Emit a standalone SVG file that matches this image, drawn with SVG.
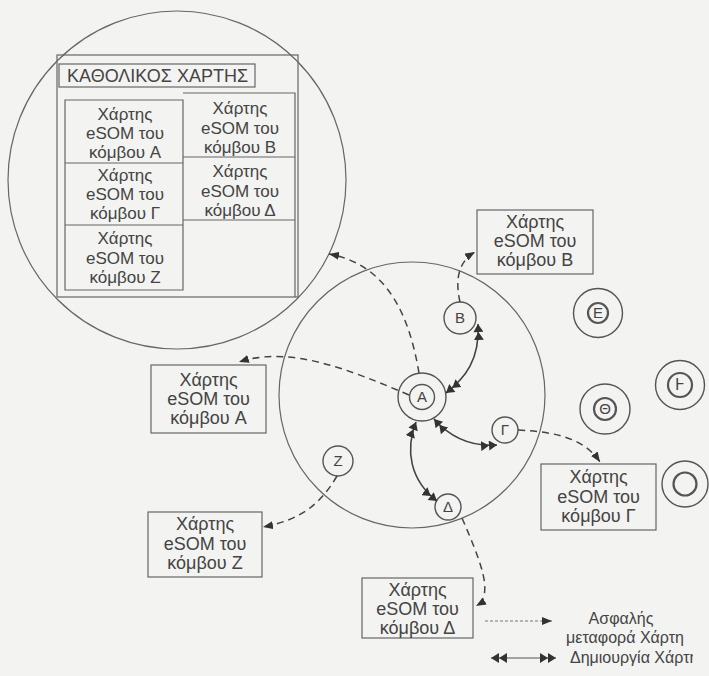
<svg xmlns="http://www.w3.org/2000/svg" width="709" height="676" viewBox="0 0 709 676">
<style>
text{font-family:"Liberation Sans",Arial,sans-serif;fill:#444}
.t{font-size:18px;text-anchor:middle}
.c{font-size:17px;text-anchor:middle}
.n{font-size:15px;text-anchor:middle}
.lg{font-size:16px}
.box{fill:#f3f3f1;stroke:#666;stroke-width:1.2}
.grid{fill:none;stroke:#666;stroke-width:1.2}
.big{fill:none;stroke:#666;stroke-width:1.2}
.nd{fill:#f3f3f1;stroke:#555;stroke-width:1.4}
.nd2{fill:none;stroke:#555;stroke-width:2.2}
.ds{fill:none;stroke:#444;stroke-width:1.5;stroke-dasharray:7 5;marker-end:url(#ah)}
.so{fill:none;stroke:#444;stroke-width:1.6;marker-start:url(#dah);marker-end:url(#dah)}
</style>
<defs>
<marker id="ah" viewBox="0 0 10 8" refX="10" refY="4" markerWidth="10" markerHeight="8" markerUnits="userSpaceOnUse" orient="auto"><path d="M0,0 L10,4 L0,8 z" fill="#333"/></marker>
<marker id="dah" viewBox="0 0 16 10" refX="16" refY="5" markerWidth="16" markerHeight="10" markerUnits="userSpaceOnUse" orient="auto-start-reverse"><path d="M0,0 L8,5 L0,10 z M8,0 L16,5 L8,10 z" fill="#333"/></marker>
<clipPath id="clipR"><rect x="0" y="0" width="693" height="676"/></clipPath>
</defs>
<rect x="0" y="0" width="709" height="676" fill="#f3f3f1"/>

<g id="global-map">
<circle class="big" cx="177" cy="180" r="169"/>
<rect class="grid" x="57" y="55" width="241" height="242"/>
<rect class="grid" x="59" y="64" width="196" height="23"/>
<text x="67" y="82" style="font-size:18px">ΚΑΘΟΛΙΚΟΣ ΧΑΡΤΗΣ</text>
<path class="grid" d="M65,100 H183 V290 H65 Z M65,163 H183 M65,225 H183 M183,93 H295 V297 M183,157 H295 M183,220 H295"/>
<text class="c" x="125" y="120">Χάρτης</text><text class="c" x="125" y="139">eSOM του</text><text class="c" x="125" y="158">κόμβου A</text>
<text class="c" x="125" y="181">Χάρτης</text><text class="c" x="125" y="200">eSOM του</text><text class="c" x="125" y="219">κόμβου Γ</text>
<text class="c" x="125" y="244">Χάρτης</text><text class="c" x="125" y="264">eSOM του</text><text class="c" x="125" y="283">κόμβου Z</text>
<text class="c" x="240" y="114">Χάρτης</text><text class="c" x="240" y="134">eSOM του</text><text class="c" x="240" y="153">κόμβου B</text>
<text class="c" x="240" y="177">Χάρτης</text><text class="c" x="240" y="197">eSOM του</text><text class="c" x="240" y="216">κόμβου Δ</text>
</g>

<g id="cluster"><circle class="big" cx="412" cy="395" r="133"/></g>

<g id="map-A"><rect class="box" x="151" y="365" width="115" height="68"/><text class="t" x="208.5" y="386">Χάρτης</text><text class="t" x="208.5" y="405">eSOM του</text><text class="t" x="208.5" y="424">κόμβου A</text></g>
<g id="map-B"><rect class="box" x="477" y="210" width="116" height="64"/><text class="t" x="535" y="228">Χάρτης</text><text class="t" x="535" y="247">eSOM του</text><text class="t" x="535" y="266">κόμβου B</text></g>
<g id="map-G"><rect class="box" x="541" y="464" width="115" height="66"/><text class="t" x="598.5" y="483">Χάρτης</text><text class="t" x="598.5" y="503">eSOM του</text><text class="t" x="598.5" y="522">κόμβου Γ</text></g>
<g id="map-Z"><rect class="box" x="148" y="512" width="114" height="65"/><text class="t" x="205" y="530">Χάρτης</text><text class="t" x="205" y="550">eSOM του</text><text class="t" x="205" y="569">κόμβου Z</text></g>
<g id="map-D"><rect class="box" x="362" y="578" width="111" height="60"/><text class="t" x="417.5" y="596">Χάρτης</text><text class="t" x="417.5" y="615">eSOM του</text><text class="t" x="417.5" y="634">κόμβου Δ</text></g>

<g id="node-A"><circle class="nd" cx="422" cy="397" r="24"/><circle class="nd" cx="422" cy="397" r="12.5"/><text class="n" x="422" y="402">A</text></g>
<g id="node-B"><circle class="nd" cx="460" cy="318" r="16"/><text class="n" x="460" y="323">B</text></g>
<g id="node-G"><circle class="nd" cx="505" cy="430" r="13"/><text class="n" x="505" y="435">Γ</text></g>
<g id="node-D"><circle class="nd" cx="448" cy="507" r="13"/><text class="n" x="448" y="512">Δ</text></g>
<g id="node-Z"><circle class="nd" cx="338" cy="461" r="15"/><text class="n" x="338" y="466">Z</text></g>
<g id="node-E"><circle class="nd" cx="598" cy="313" r="24.5"/><circle class="nd2" cx="598" cy="313" r="10"/><text class="n" x="598" y="318">E</text></g>
<g id="node-Th"><circle class="nd" cx="605" cy="409" r="25"/><circle class="nd2" cx="605" cy="409" r="11"/><text class="n" x="605" y="414">Θ</text></g>
<g id="node-H"><circle class="nd" cx="680" cy="385" r="24.5"/><circle class="nd2" cx="680" cy="385" r="12"/><text class="n" x="680" y="390" style="font-family:'DejaVu Sans',sans-serif">Ͱ</text></g>
<g id="node-I"><circle class="nd" cx="685" cy="484" r="23"/><circle class="nd2" cx="685" cy="484" r="11.5"/></g>

<g id="connectors">
<path class="ds" d="M419,373 C410,320 390,265 329,254"/>
<path class="ds" d="M409,395 C350,370 290,345 239,362"/>
<path class="ds" d="M460,302 C455,280 458,262 475,252"/>
<path class="ds" d="M518,430 C560,432 585,440 600,462"/>
<path class="ds" d="M462,518 C480,560 495,595 476,606"/>
<path class="ds" d="M337,476 C320,505 300,520 263,527"/>
<path class="so" d="M446,393 C465,378 480,360 478,324"/>
<path class="so" d="M434,419 C450,437 470,447 497,445"/>
<path class="so" d="M416,422 C405,450 410,480 437,501"/>
</g>

<g id="legend">
<path d="M485,621 L552,621" fill="none" stroke="#777" stroke-width="1" stroke-dasharray="3 2" marker-end="url(#ah)"/>
<text class="lg" x="621" y="624" text-anchor="middle">Ασφαλής</text>
<text class="lg" x="625" y="643" text-anchor="middle">μεταφορά Χάρτη</text>
<path d="M491,658 L556,658" fill="none" stroke="#555" stroke-width="1.2" marker-start="url(#dah)" marker-end="url(#dah)"/>
<text class="lg" x="570" y="663" clip-path="url(#clipR)">Δημιουργία Χάρτη</text>
</g>
</svg>
